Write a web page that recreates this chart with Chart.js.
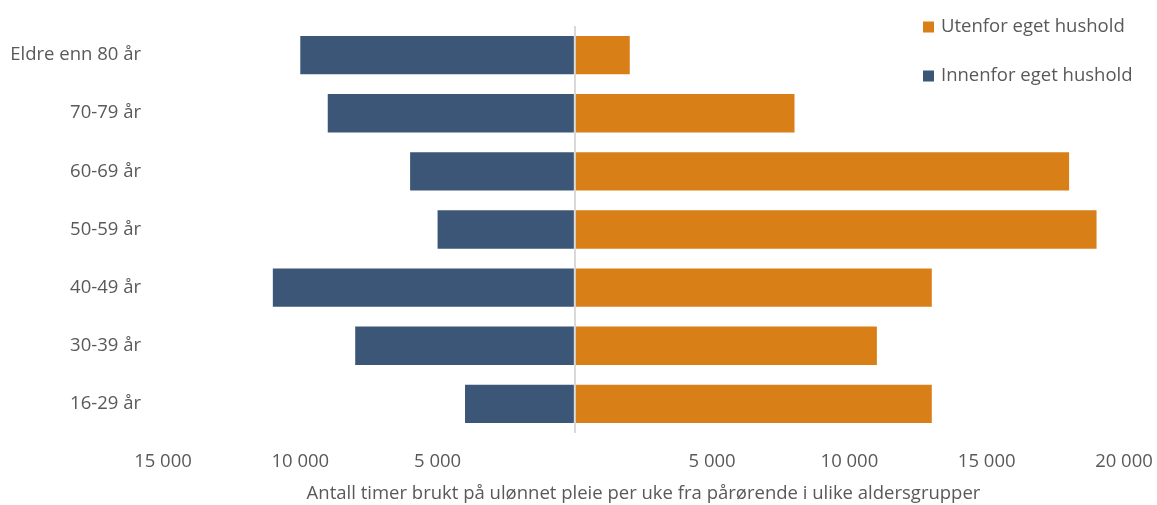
<!DOCTYPE html>
<html>
<head>
<meta charset="utf-8">
<script src="https://cdn.jsdelivr.net/npm/chart.js@4/dist/chart.umd.min.js"></script>
<style>
  html, body { margin: 0; padding: 0; background: #ffffff; }
  #wrap { width: 1157px; height: 505px; position: relative; }
</style>
</head>
<body>
<div id="wrap"><canvas id="c"></canvas></div>
<script>
// Age groups, top to bottom
const categories = ['Eldre enn 80 år', '70-79 år', '60-69 år', '50-59 år', '40-49 år', '30-39 år', '16-29 år'];
// Hours per week of unpaid care, within own household (drawn to the left)
const innenfor = [10000, 9000, 6000, 5000, 11000, 8000, 4000];
// Hours per week of unpaid care, outside own household (drawn to the right)
const utenfor = [2000, 8000, 18000, 19000, 13000, 11000, 13000];
const seriesNames = ['Innenfor eget hushold', 'Utenfor eget hushold'];
const tickValues = [-15000, -10000, -5000, 0, 5000, 10000, 15000, 20000];
const axisTitle = 'Antall timer brukt på ulønnet pleie per uke fra pårørende i ulike aldersgrupper';

const FONT = '"Open Sans", Lato, sans-serif';
const FS = 18.5;
const TEXT = '#595959';
const BLUE = '#3b5676';
const ORANGE = '#d97f17';

function fmt(v) {
  const a = Math.abs(v);
  if (a === 0) return '';
  return String(a).replace(/\B(?=(\d{3})+(?!\d))/g, ' ');
}

// Vertical legend in the top-right corner, listed with the right-hand series first
const legendPlugin = {
  id: 'cornerLegend',
  afterDraw(chart) {
    const ctx = chart.ctx;
    const items = chart.data.datasets.slice().reverse();
    ctx.save();
    ctx.font = FS + 'px ' + FONT;
    ctx.textBaseline = 'middle';
    ctx.textAlign = 'left';
    items.forEach((ds, i) => {
      const y = 27 + i * 49;
      ctx.fillStyle = ds.backgroundColor;
      ctx.fillRect(923, y - 5.5, 11, 11);
      ctx.fillStyle = TEXT;
      ctx.fillText(ds.label, 941, y);
    });
    ctx.restore();
  }
};

new Chart(document.getElementById('c'), {
  type: 'bar',
  data: {
    labels: categories,
    datasets: [
      { label: seriesNames[0], data: innenfor.map(v => -v), backgroundColor: BLUE },
      { label: seriesNames[1], data: utenfor, backgroundColor: ORANGE }
    ]
  },
  options: {
    indexAxis: 'y',
    responsive: true,
    maintainAspectRatio: false,
    animation: false,
    layout: { padding: { top: 26, right: 33, left: 0, bottom: 0 } },
    datasets: { bar: { categoryPercentage: 1, barPercentage: 0.66, borderWidth: 0 } },
    plugins: { legend: { display: false }, tooltip: { enabled: false } },
    scales: {
      x: {
        type: 'linear',
        min: -15000,
        max: 20000,
        z: 1,
        afterBuildTicks(scale) { scale.ticks = tickValues.map(v => ({ value: v })); },
        afterFit(scale) {
          scale.height = 72;
          scale.paddingLeft = 0;
          scale.paddingRight = 0;
        },
        border: { display: false },
        grid: {
          drawTicks: false,
          lineWidth: ctx => (ctx.tick && ctx.tick.value === 0 ? 2 : 0),
          color: ctx => (ctx.tick && ctx.tick.value === 0 ? '#d9d9d9' : 'rgba(0,0,0,0)')
        },
        ticks: {
          padding: 18,
          maxRotation: 0,
          autoSkip: false,
          color: TEXT,
          font: { family: FONT, size: FS },
          callback: v => fmt(v)
        },
        title: {
          display: true,
          text: axisTitle,
          color: TEXT,
          font: { family: FONT, size: FS },
          padding: { top: 7, bottom: 0 }
        }
      },
      y: {
        stacked: true,
        afterFit(scale) {
          scale.width = 163;
          scale.paddingTop = 0;
          scale.paddingBottom = 0;
        },
        border: { display: false },
        grid: { display: false, drawTicks: false },
        ticks: {
          padding: 22,
          color: TEXT,
          font: { family: FONT, size: FS }
        }
      }
    }
  },
  plugins: [legendPlugin]
});
</script>
</body>
</html>
